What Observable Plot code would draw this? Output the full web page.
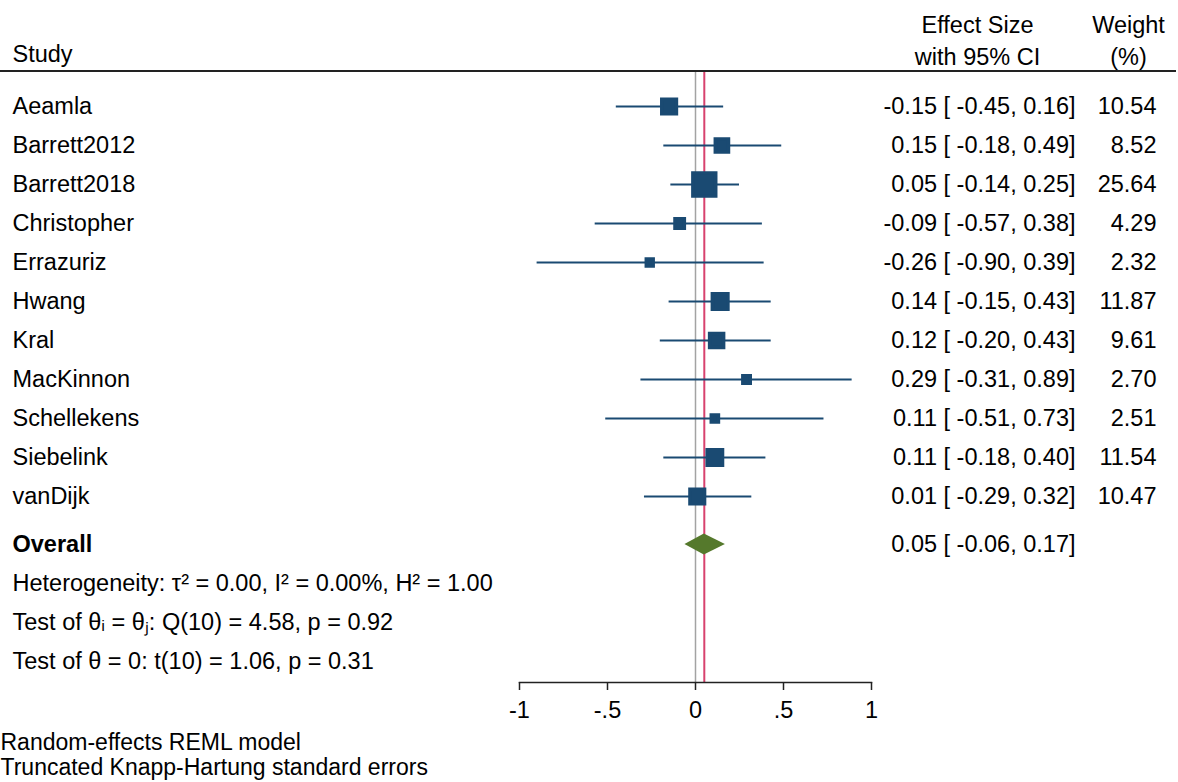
<!DOCTYPE html>
<html><head><meta charset="utf-8">
<script src="https://cdn.jsdelivr.net/npm/d3@7"></script>
<script src="https://cdn.jsdelivr.net/npm/@observablehq/plot@0.6"></script>
<style>
body{margin:0;background:#fff;}
svg text{white-space:pre;}
</style></head><body><div id="chart"></div>
<script>
const studies = ["Aeamla","Barrett2012","Barrett2018","Christopher","Errazuriz","Hwang","Kral","MacKinnon","Schellekens","Siebelink","vanDijk"];
const effect = [-0.15,0.15,0.05,-0.09,-0.26,0.14,0.12,0.29,0.11,0.11,0.01];
const ciLow = [-0.45,-0.18,-0.14,-0.57,-0.90,-0.15,-0.20,-0.31,-0.51,-0.18,-0.29];
const ciHigh = [0.16,0.49,0.25,0.38,0.39,0.43,0.43,0.89,0.73,0.40,0.32];
const weight = [10.54,8.52,25.64,4.29,2.32,11.87,9.61,2.70,2.51,11.54,10.47];
const overallLabel = "Overall";
const overallEffect = 0.05, overallLow = -0.06, overallHigh = 0.17;
const statLines = [
  "Heterogeneity: τ² = 0.00, I² = 0.00%, H² = 1.00",
  "Test of θᵢ = θⱼ: Q(10) = 4.58, p = 0.92",
  "Test of θ = 0: t(10) = 1.06, p = 0.31"
];
const footnotes = ["Random-effects REML model","Truncated Knapp-Hartung standard errors"];
const xTicks = [-1,-0.5,0,0.5,1];
const xTickLabels = ["-1","-.5","0",".5","1"];
const headStudy = "Study";
const headEffect = ["Effect Size","with 95% CI"];
const headWeight = ["Weight","(%)"];

const f2 = v => v.toFixed(2);
const ciText = (e,l,h) => `${f2(e)} [ ${f2(l)}, ${f2(h)}]`;
const rows = studies.map((s,i) => ({study:s, es:effect[i], lo:ciLow[i], hi:ciHigh[i], w:weight[i],
  ci: ciText(effect[i],ciLow[i],ciHigh[i]), wt: f2(weight[i])}));
const statKeys = statLines.map((_,i) => "stat"+i);
const stats = statLines.map((t,i) => ({key:statKeys[i], text:t}));
const yDomain = [...studies, overallLabel, ...statKeys];

const navy="#1a4a72", green="#55792c", red="#d8426e", gray="#a3a3a3";
const FONT = "'Liberation Sans', Arial, sans-serif";
const fs = 23.5;
const W = 1178, H = 782;
const mL = 519, mR = 307, mT = 71, mB = 100;

const diamond = (index, scales) => {
  const y = scales.y(overallLabel) + 9;
  const x0 = scales.x(overallLow), xm = scales.x(overallEffect), x1 = scales.x(overallHigh);
  return d3.create("svg:path")
    .attr("d", `M${x0},${y}L${xm},${y-10.5}L${x1},${y}L${xm},${y+10.5}Z`)
    .attr("fill", green).node();
};

const chart = Plot.plot({
  width: W, height: H,
  marginLeft: mL, marginRight: mR, marginTop: mT, marginBottom: mB,
  style: {fontFamily: FONT, fontSize: fs+"px", color:"#000", background:"#fff"},
  x: {domain:[-1,1]},
  y: {type:"point", domain:yDomain, padding:0, insetTop:33, insetBottom:29, axis:null},
  r: {type:"sqrt", domain:[0, d3.max(weight)], range:[0, 12.9]},
  marks: [
    Plot.ruleX([0], {stroke:gray, strokeWidth:1.5}),
    Plot.ruleX([overallEffect], {stroke:red, strokeWidth:2}),
    Plot.ruleY(rows, {y:"study", x1:"lo", x2:"hi", stroke:navy, strokeWidth:2}),
    Plot.dot(rows, {x:"es", y:"study", r:"w", symbol:"square", fill:navy, stroke:navy, strokeWidth:3.5}),
    diamond,
    Plot.text(rows, {y:"study", text:"study", frameAnchor:"left", dx:12-mL, textAnchor:"start", lineAnchor:"middle"}),
    Plot.text(rows, {y:"study", text:"ci", frameAnchor:"right", dx:1075-(W-mR), textAnchor:"end", lineAnchor:"middle"}),
    Plot.text(rows, {y:"study", text:"wt", frameAnchor:"right", dx:1156-(W-mR), textAnchor:"end", lineAnchor:"middle"}),
    Plot.text([overallLabel], {y:d=>d, text:d=>d, frameAnchor:"left", dx:12-mL, dy:9, textAnchor:"start", lineAnchor:"middle", fontWeight:"bold"}),
    Plot.text([ciText(overallEffect,overallLow,overallHigh)], {y:()=>overallLabel, text:d=>d, frameAnchor:"right", dx:1075-(W-mR), dy:9, textAnchor:"end", lineAnchor:"middle"}),
    Plot.text(stats, {y:"key", text:"text", frameAnchor:"left", dx:12-mL, dy:9, textAnchor:"start", lineAnchor:"middle"}),
    Plot.text([headStudy], {text:d=>d, frameAnchor:"top-left", dx:12-mL, dy:-17, textAnchor:"start", lineAnchor:"middle"}),
    Plot.text([headEffect.join("\n")], {text:d=>d, frameAnchor:"top-right", dx:977-(W-mR), dy:-33, textAnchor:"middle", lineAnchor:"middle", lineHeight:32/fs}),
    Plot.text([headWeight.join("\n")], {text:d=>d, frameAnchor:"top-right", dx:1128-(W-mR), dy:-33, textAnchor:"middle", lineAnchor:"middle", lineHeight:32/fs}),
    Plot.text([footnotes.join("\n")], {text:d=>d, frameAnchor:"bottom-left", dx:-mL, dy:72, textAnchor:"start", lineAnchor:"middle", fontSize:23, lineHeight:25/23}),
    Plot.frame({anchor:"bottom", stroke:"#222", strokeWidth:1.5}),
    Plot.axisX({ticks:xTicks, tickFormat:(d)=>xTickLabels[xTicks.indexOf(d)], tickSize:8, tickPadding:11, fontSize:fs, stroke:"#222", strokeWidth:1.5, color:"#000"})
  ]
});
d3.select(chart).append("line")
  .attr("x1", 0).attr("x2", 1176).attr("y1", mT).attr("y2", mT)
  .attr("stroke", "#222").attr("stroke-width", 2);
document.getElementById("chart").appendChild(chart);
</script></body></html>
